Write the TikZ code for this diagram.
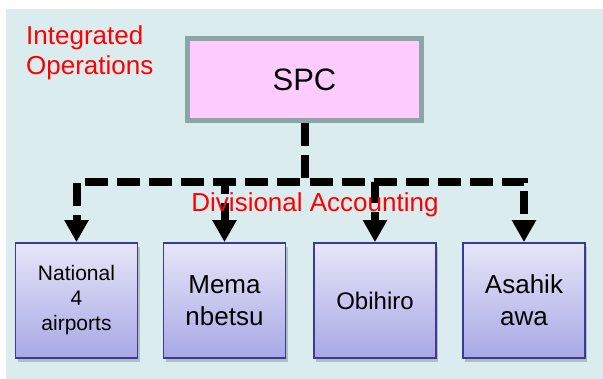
\documentclass[tikz,border=0pt]{standalone}
\usepackage{fontspec}
\setmainfont{Liberation Sans}
\usetikzlibrary{arrows.meta,shadows}
\definecolor{panel}{RGB}{218,236,238}
\definecolor{spcline}{RGB}{140,166,168}
\definecolor{spcfill}{RGB}{255,204,255}
\definecolor{siteline}{RGB}{58,58,154}
\definecolor{sitetop}{RGB}{230,230,248}
\definecolor{sitebottom}{RGB}{168,168,230}

\begin{document}
\begin{tikzpicture}[
 x=1pt,y=1pt,
 >={Triangle[width=23pt,length=22pt]},
 align=center,
 inner sep=0pt,
 top/.style={draw=spcline,line width=5pt,fill=spcfill,minimum width=234pt,minimum height=82pt,font=\fontsize{31}{36}\selectfont},
 site/.style={draw=siteline,line width=1.8pt,top color=sitetop,bottom color=sitebottom,minimum width=122pt,minimum height=115pt,
   drop shadow={shadow xshift=2pt,shadow yshift=-4pt,opacity=0.35,fill=black!60}},
 link/.style={->,line width=8pt,dash pattern=on 23pt off 9pt},
 note/.style={text=red,font=\fontsize{26}{30}\selectfont}
]
\useasboundingbox (0,0) rectangle (603,379);
\fill [panel] (6,0) rectangle (603,370);
\node (spc-box) [top] at (304.5,299.5) {SPC};
\node (national-box) [site,font=\fontsize{21}{25}\selectfont] at (76.5,78.5) {National\\4\\airports};
\node (memanbetsu-box) [site,font=\fontsize{26}{32}\selectfont] at (224.5,78.5) {Mema\\nbetsu};
\node (obihiro-box) [site,font=\fontsize{24}{30}\selectfont] at (375,78.5) {Obihiro};
\node (asahikawa-box) [site,font=\fontsize{26}{32}\selectfont] at (524,78.5) {Asahik\\awa};
\coordinate (bus) at (0,197);
\draw[link] (spc-box.south) -- (spc-box.south |- bus) -| (national-box.north);
\draw[link] (spc-box.south) -- (spc-box.south |- bus) -| (memanbetsu-box.north);
\draw[link] (spc-box.south) -- (spc-box.south |- bus) -| (obihiro-box.north);
\draw[link] (spc-box.south) -- (spc-box.south |- bus) -| (asahikawa-box.north);
\node (integrated) [note,anchor=west,align=left] at (26,326) {Integrated\\Operations};
\node (divisional) [note,anchor=base] at (315,167) {Divisional Accounting};
\end{tikzpicture}
\end{document}
